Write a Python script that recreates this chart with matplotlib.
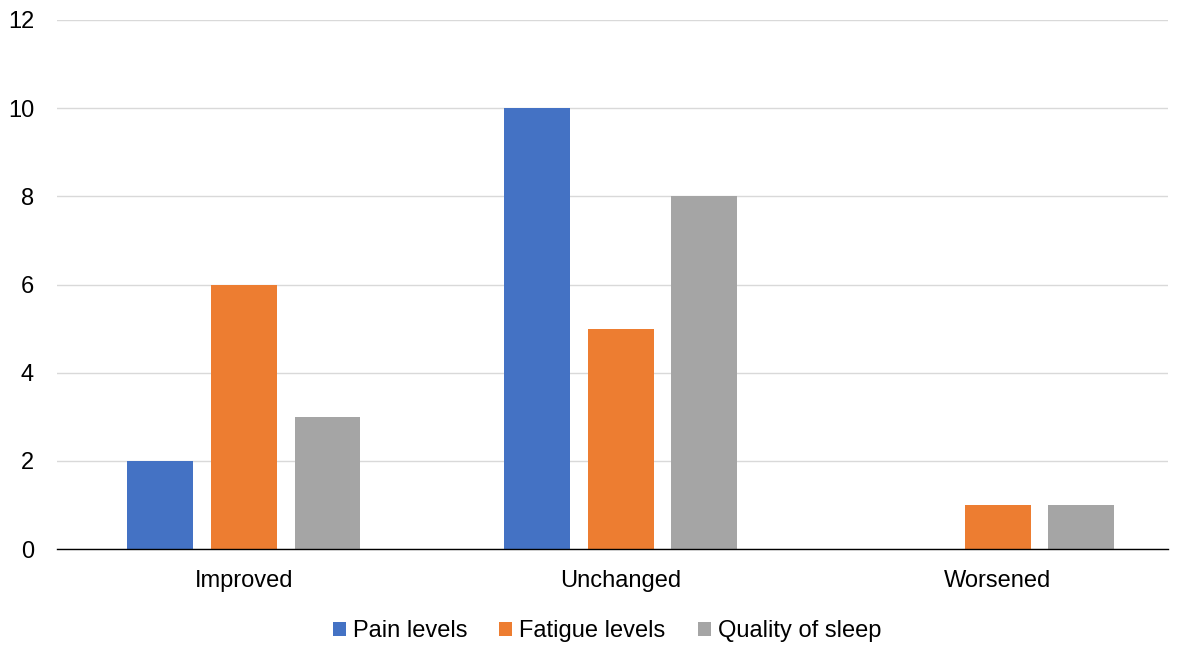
import matplotlib
matplotlib.use("Agg")
import matplotlib.pyplot as plt
import numpy as np

plt.rcParams['font.family'] = ['Liberation Sans', 'DejaVu Sans']

categories = ["Improved", "Unchanged", "Worsened"]
series_names = ["Pain levels", "Fatigue levels", "Quality of sleep"]
pain = [2, 10, 0]
fatigue = [6, 5, 1]
sleep = [3, 8, 1]
colors = ["#4472C4", "#ED7D31", "#A5A5A5"]
yticks = [0, 2, 4, 6, 8, 10, 12]

fig = plt.figure(figsize=(11.84, 6.46), dpi=100)
ax = fig.add_axes([57/1184, 97/646, (1168-57)/1184, (549-20)/646])

x = np.arange(len(categories))
width = 0.175
step = 0.2215
for i, (vals, name, c) in enumerate(zip([pain, fatigue, sleep], series_names, colors)):
    ax.bar(x + (i - 1) * step, vals, width, color=c, label=name, zorder=3)

ax.set_xlim(-0.496, 2.451)
ax.set_ylim(0, 12)
ax.set_yticks(yticks)
ax.set_xticks(x)
ax.set_xticklabels(categories)
ax.grid(axis='y', color='#D9D9D9', linewidth=1, zorder=0)
for s in ['top', 'right', 'left']:
    ax.spines[s].set_visible(False)
ax.spines['bottom'].set_color('#000000')
ax.spines['bottom'].set_linewidth(1)
ax.spines['bottom'].set_zorder(4)
ax.tick_params(axis='both', length=0, labelsize=17, colors='#000000')
ax.tick_params(axis='y', pad=16.5)
ax.tick_params(axis='x', pad=15)

leg = fig.legend(loc='center', bbox_to_anchor=(607/1184, 1 - 631/646), ncol=3,
                 frameon=False, fontsize=17, handlelength=0.55, handleheight=0.55,
                 handletextpad=0.3, columnspacing=1.35)

fig.savefig("out.png", dpi=100)
